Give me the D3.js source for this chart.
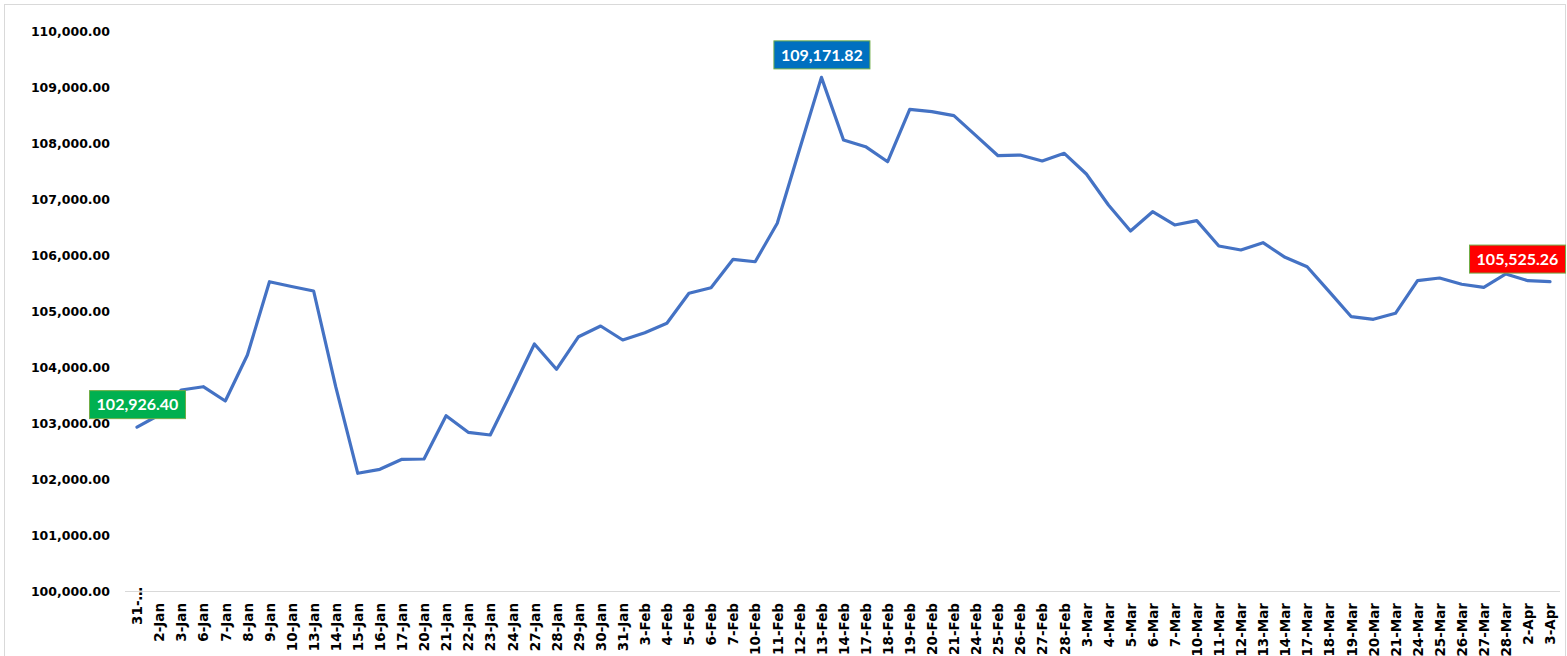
<!DOCTYPE html>
<html>
<head>
<meta charset="utf-8">
<script src="https://cdn.jsdelivr.net/npm/d3@7"></script>
<style>
  html, body { margin: 0; padding: 0; background: #fff; }
  svg { display: block; }
</style>
</head>
<body>
<svg id="chart" width="1567" height="656"></svg>
<script>
const categories = ["31-Dec","2-Jan","3-Jan","6-Jan","7-Jan","8-Jan","9-Jan","10-Jan","13-Jan","14-Jan","15-Jan","16-Jan","17-Jan","20-Jan","21-Jan","22-Jan","23-Jan","24-Jan","27-Jan","28-Jan","29-Jan","30-Jan","31-Jan","3-Feb","4-Feb","5-Feb","6-Feb","7-Feb","10-Feb","11-Feb","12-Feb","13-Feb","14-Feb","17-Feb","18-Feb","19-Feb","20-Feb","21-Feb","24-Feb","25-Feb","26-Feb","27-Feb","28-Feb","3-Mar","4-Mar","5-Mar","6-Mar","7-Mar","10-Mar","11-Mar","12-Mar","13-Mar","14-Mar","17-Mar","18-Mar","19-Mar","20-Mar","21-Mar","24-Mar","25-Mar","26-Mar","27-Mar","28-Mar","2-Apr","3-Apr"];

const values = [102926.40, 103143, 103589, 103648, 103393, 104214, 105523, 105437, 105357, 103648, 102102, 102173, 102352, 102357, 103130, 102834, 102786, 103589, 104411, 103959, 104541, 104732, 104482, 104613, 104780, 105316, 105416, 105923, 105880, 106566, 107875, 109171.82, 108054, 107934, 107666, 108602, 108559, 108488, 108131, 107773, 107786, 107679, 107816, 107446, 106893, 106429, 106773, 106536, 106613, 106161, 106089, 106220, 105959, 105791, 105345, 104898, 104852, 104959, 105541, 105589, 105477, 105423, 105661, 105541, 105525.26];

const yTicks = [100000, 101000, 102000, 103000, 104000, 105000, 106000, 107000, 108000, 109000, 110000];

const highlightColors = { first: "#00B050", max: "#0070C0", last: "#FF0000" };

const svg = d3.select("#chart");
const W = 1567, H = 656;

svg.append("rect").attr("x", 0).attr("y", 0).attr("width", W).attr("height", H).attr("fill", "#fff");
svg.append("rect").attr("x", 4.5).attr("y", 4.5).attr("width", 1561).attr("height", 700)
  .attr("fill", "none").attr("stroke", "#D9D9D9").attr("stroke-width", 1);

const x = d3.scalePoint().domain(categories).range([137, 1550]);
const y = d3.scaleLinear().domain([100000, 110000]).range([591, 31]);

const axisFont = "'DejaVu Sans', sans-serif";

// baseline (category axis line)
svg.append("line").attr("x1", 125).attr("x2", 1560).attr("y1", y(100000) + 0.5).attr("y2", y(100000) + 0.5)
  .attr("stroke", "#D9D9D9").attr("stroke-width", 1);

// y axis
const yAxis = d3.axisLeft(y).tickValues(yTicks).tickFormat(d3.format(",.2f")).tickSize(0).tickPadding(0);
const gy = svg.append("g").attr("transform", "translate(110,0)").call(yAxis);
gy.select(".domain").remove();
gy.selectAll("text").attr("font-family", axisFont).attr("font-weight", "bold")
  .attr("font-size", "12.5px").attr("fill", "#000");

// x axis
const xAxis = d3.axisBottom(x).tickSize(0).tickPadding(0)
  .tickFormat(d => d === "31-Dec" ? "31-…" : d);
const gx = svg.append("g").attr("transform", `translate(0,${y(100000)})`).call(xAxis);
gx.select(".domain").remove();
gx.selectAll("text")
  .attr("font-family", axisFont).attr("font-weight", "bold").attr("font-size", "13.5px").attr("fill", "#000")
  .attr("text-anchor", "end")
  .attr("transform", (d, i) => `translate(0,${i === 0 ? -4 : 12}) rotate(-90)`)
  .attr("x", 0).attr("y", 0).attr("dy", "0.35em");

// line
const line = d3.line().x((d, i) => x(categories[i])).y(d => y(d));
svg.append("path").datum(values).attr("d", line)
  .attr("fill", "none").attr("stroke", "#4472C4").attr("stroke-width", 3.2)
  .attr("stroke-linejoin", "round").attr("stroke-linecap", "round");

// highlight labels
const maxIdx = d3.maxIndex(values);
const marks = [
  { i: 0, color: highlightColors.first },
  { i: maxIdx, color: highlightColors.max },
  { i: values.length - 1, color: highlightColors.last }
];
const fmt = d3.format(",.2f");
const boxW = 96, boxH = 28, gap = 9;
marks.forEach(m => {
  const px = x(categories[m.i]), py = y(values[m.i]);
  let left = px - boxW / 2;
  left = Math.max(6, Math.min(left, 1565 - boxW));
  const top = py - gap - boxH;
  const g = svg.append("g");
  g.append("rect").attr("x", left + 0.5).attr("y", top + 0.5).attr("width", boxW).attr("height", boxH)
    .attr("fill", m.color).attr("stroke", "#70AD47").attr("stroke-width", 1);
  g.append("text").attr("x", left + boxW / 2 + 0.5).attr("y", top + boxH / 2 + 0.5)
    .attr("dy", "0.36em").attr("text-anchor", "middle")
    .attr("font-family", "Lato, 'Open Sans', sans-serif").attr("font-weight", "bold").attr("font-size", "16px")
    .attr("fill", "#fff").text(fmt(values[m.i]));
});
</script>
</body>
</html>
